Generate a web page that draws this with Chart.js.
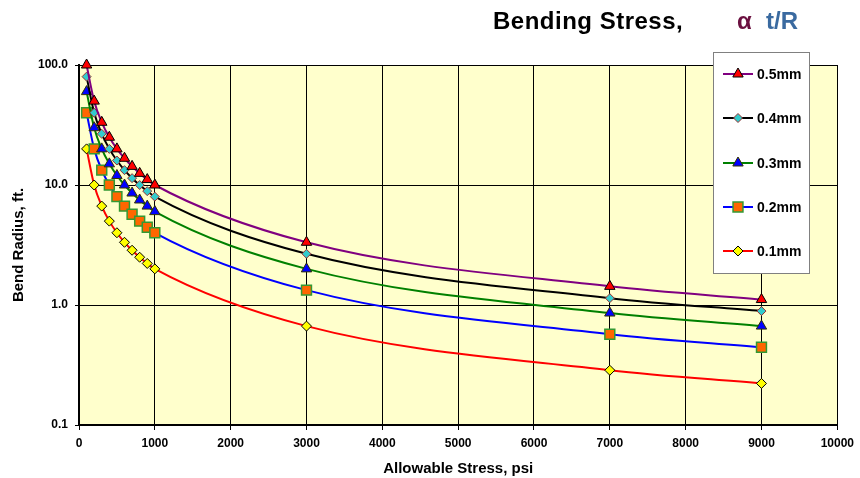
<!DOCTYPE html>
<html>
<head>
<meta charset="utf-8">
<script src="https://cdn.jsdelivr.net/npm/chart.js@4.4.1/dist/chart.umd.min.js"></script>
<style>
  body { margin: 0; background: #fff; }
  #wrap { position: relative; width: 860px; height: 478px; }
  .ttl { position: absolute; top: 9px; font: bold 24px "Liberation Sans", Arial, sans-serif; line-height: 24px; white-space: nowrap; }
</style>
</head>
<body>
<div id="wrap">
  <canvas id="bendChart" width="860" height="478"></canvas>
  <span class="ttl" style="left:493px;color:#000;letter-spacing:0.5px">Bending Stress,</span>
  <span class="ttl" style="left:737px;color:#6b1040">&alpha;</span>
  <span class="ttl" style="left:766px;color:#3a6aa0">t/R</span>
</div>
<script>
// allowable stress (psi)
const stress = [100, 200, 300, 400, 500, 600, 700, 800, 900, 1000, 3000, 7000, 9000];

// bend radius (ft) per wall thickness
const r05 = [100, 50, 33.3, 25, 20, 16.7, 14.3, 12.5, 11.1, 10, 3.33, 1.43, 1.11];
const r04 = [80, 40, 26.7, 20, 16, 13.3, 11.4, 10, 8.89, 8, 2.67, 1.14, 0.89];
const r03 = [60, 30, 20, 15, 12, 10, 8.57, 7.5, 6.67, 6, 2, 0.857, 0.667];
const r02 = [40, 20, 13.3, 10, 8, 6.67, 5.71, 5, 4.44, 4, 1.33, 0.571, 0.444];
const r01 = [20, 10, 6.67, 5, 4, 3.33, 2.86, 2.5, 2.22, 2, 0.667, 0.286, 0.222];

const names = ['0.5mm', '0.4mm', '0.3mm', '0.2mm', '0.1mm'];
const yTicks = [0.1, 1, 10, 100];

const FONT = '"Liberation Sans", Arial, sans-serif';

const looks = [
  { line: '#800080', fill: '#ff0000', edge: '#000000', shape: 'triangle', r: 6, bw: 1 },
  { line: '#000000', fill: '#33cccc', edge: '#993333', shape: 'rectRot', r: 4.5, bw: 1 },
  { line: '#008000', fill: '#0000ff', edge: '#333300', shape: 'triangle', r: 6, bw: 1 },
  { line: '#0000ff', fill: '#ff6600', edge: '#339933', shape: 'rect', r: 7, bw: 1.5 },
  { line: '#ff0000', fill: '#ffff00', edge: '#000000', shape: 'rectRot', r: 5, bw: 1 }
];

const allSeries = [r05, r04, r03, r02, r01];

const datasets = allSeries.map((vals, i) => ({
  label: names[i],
  data: vals.map((v, j) => ({ x: stress[j], y: v })),
  borderColor: looks[i].line,
  borderWidth: 2,
  pointStyle: looks[i].shape,
  pointRadius: looks[i].r,
  pointBackgroundColor: looks[i].fill,
  pointBorderColor: looks[i].edge,
  pointBorderWidth: looks[i].bw,
  cubicInterpolationMode: 'monotone',
  clip: false
}));

const plotBg = {
  id: 'plotBg',
  beforeDraw(chart) {
    const a = chart.chartArea, ctx = chart.ctx;
    ctx.save();
    ctx.fillStyle = '#ffffcc';
    ctx.fillRect(a.left, a.top, a.right - a.left, a.bottom - a.top);
    ctx.restore();
  }
};

const legendBox = {
  id: 'legendBox',
  afterDraw(chart) {
    const ctx = chart.ctx;
    ctx.save();
    ctx.fillStyle = '#ffffff';
    ctx.fillRect(713, 52, 96, 221);
    ctx.strokeStyle = '#808080';
    ctx.lineWidth = 1;
    ctx.strokeRect(713.5, 52.5, 96, 221);
    const ys = [74, 118, 163, 207, 251];
    names.forEach((n, i) => {
      const y = ys[i];
      ctx.strokeStyle = looks[i].line;
      ctx.lineWidth = 2;
      ctx.beginPath();
      ctx.moveTo(723, y);
      ctx.lineTo(753, y);
      ctx.stroke();
      ctx.fillStyle = looks[i].fill;
      ctx.strokeStyle = looks[i].edge;
      ctx.lineWidth = looks[i].bw;
      Chart.helpers.drawPoint(ctx, { pointStyle: looks[i].shape, radius: looks[i].r, borderWidth: looks[i].bw, rotation: 0 }, 738, y);
      ctx.fillStyle = '#000';
      ctx.font = 'bold 14px ' + FONT;
      ctx.textBaseline = 'middle';
      ctx.textAlign = 'left';
      ctx.fillText(n, 757, y + 1);
    });
    ctx.restore();
  }
};

new Chart(document.getElementById('bendChart').getContext('2d'), {
  type: 'line',
  data: { datasets: datasets },
  options: {
    responsive: false,
    animation: false,
    layout: { padding: { top: 65, right: 21, left: 0, bottom: 0 } },
    plugins: {
      legend: { display: false },
      tooltip: { enabled: false },
      title: { display: false }
    },
    scales: {
      x: {
        type: 'linear',
        min: 0,
        max: 10000,
        afterFit(scale) { scale.height = 53; },
        ticks: {
          stepSize: 1000,
          color: '#000',
          padding: 6,
          maxRotation: 0,
          font: { family: FONT, size: 12, weight: 'bold' },
          callback: v => String(v)
        },
        grid: { color: '#000', lineWidth: 1, tickLength: 5 },
        border: { color: '#000', width: 2 },
        title: {
          display: true,
          text: 'Allowable Stress, psi',
          color: '#000',
          padding: 0,
          font: { family: FONT, size: 15, weight: 'bold' }
        }
      },
      y: {
        type: 'logarithmic',
        min: 0.1,
        max: 100,
        afterFit(scale) { scale.width = 79; },
        afterBuildTicks(scale) { scale.ticks = yTicks.map(v => ({ value: v })); },
        ticks: {
          color: '#000',
          padding: 7,
          font: { family: FONT, size: 12, weight: 'bold' },
          callback: v => Number(v).toFixed(1)
        },
        grid: { color: '#000', lineWidth: 1, tickLength: 4 },
        border: { color: '#000', width: 2 },
        title: {
          display: true,
          text: 'Bend Radius, ft.',
          color: '#000',
          padding: { top: 10, bottom: 0 },
          font: { family: FONT, size: 15, weight: 'bold' }
        }
      }
    }
  },
  plugins: [plotBg, legendBox]
});
</script>
</body>
</html>
